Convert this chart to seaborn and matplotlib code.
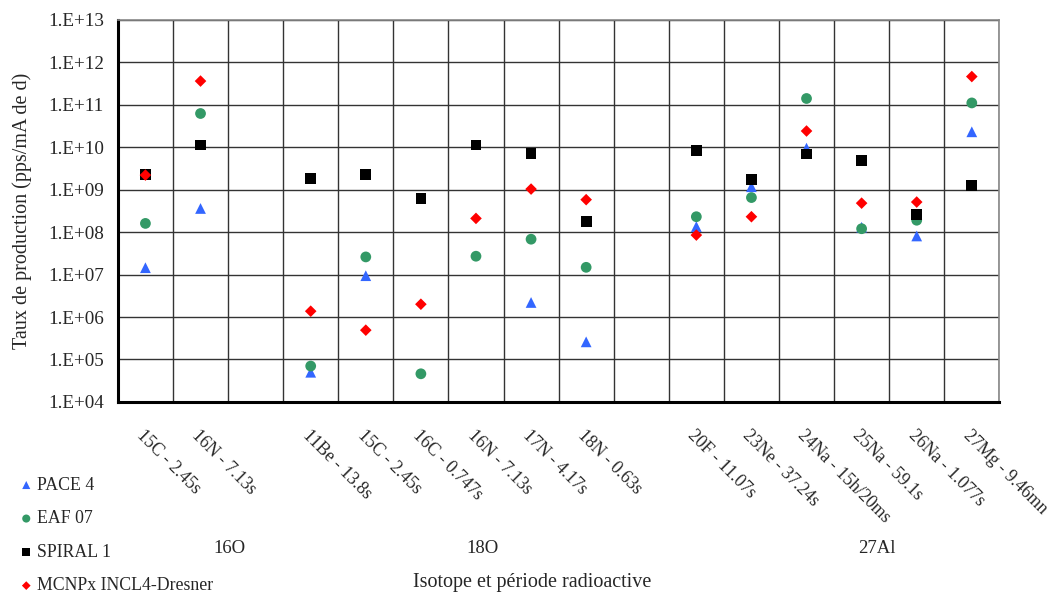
import numpy as np
import pandas as pd
import matplotlib
matplotlib.use("Agg")
import matplotlib.pyplot as plt
import seaborn as sns
from matplotlib.ticker import FixedLocator, FuncFormatter, NullFormatter

nan = np.nan

# ---- data ----
labels = ["15C - 2.45s", "16N - 7.13s", "", "11Be - 13.8s", "15C - 2.45s",
          "16C - 0.747s", "16N - 7.13s", "17N - 4.17s", "18N - 0.63s", "",
          "20F - 11.07s", "23Ne - 37.24s", "24Na - 15h/20ms", "25Na - 59.1s",
          "26Na - 1.077s", "27Mg - 9.46mn"]
groups = ["16O", "18O", "27Al"]
series_names = ["PACE 4", "EAF 07", "SPIRAL 1", "MCNPx INCL4-Dresner"]

pace4 = [1.45e7, 3.6e8, nan, 5.0e4, 9.4e6, nan, nan, 2.2e6, 2.6e5, nan,
         1.35e8, 1.17e9, 9.5e9, 1.3e8, 8.1e7, 2.3e10]
eaf07 = [1.6e8, 6.2e10, nan, 7.0e4, 2.6e7, 4.6e4, 2.7e7, 6.8e7, 1.48e7, nan,
         2.3e8, 6.5e8, 1.4e11, 1.2e8, 1.9e8, 1.1e11]
spiral1 = [2.3e9, 1.12e10, nan, 1.83e9, 2.3e9, 6.2e8, 1.12e10, 7.2e9, 1.74e8, nan,
           8.5e9, 1.7e9, 6.9e9, 4.9e9, 2.6e8, 1.26e9]
mcnpx = [2.2e9, 3.6e11, nan, 1.37e6, 4.9e5, 2.0e6, 2.1e8, 1.03e9, 5.8e8, nan,
         8.5e7, 2.3e8, 2.4e10, 4.8e8, 5.1e8, 4.6e11]

colors = ["#3366FF", "#339966", "#000000", "#FF0000"]
markers = ["^", "o", "s", "D"]
sizes = [60, 60, 60, 35]

rows = []
for name, vals in zip(series_names, [pace4, eaf07, spiral1, mcnpx]):
    for i, v in enumerate(vals):
        if not np.isnan(v):
            rows.append({"pos": i, "value": v, "serie": name})
df = pd.DataFrame(rows)

sns.set_style("white")
plt.rcParams["font.family"] = ["Liberation Serif", "DejaVu Serif"]

fig = plt.figure(figsize=(10.62, 5.99), dpi=100)
ax = fig.add_axes([0.111, 0.329, 0.830, 0.638])

for name, c, m, s in zip(series_names, colors, markers, sizes):
    sub = df[df["serie"] == name]
    sns.scatterplot(data=sub, x="pos", y="value", color=c, marker=m, s=s,
                    edgecolor="none", linewidth=0, ax=ax, label=name, zorder=3)

ax.set_yscale("log")
ax.set_ylim(1e4, 1e13)
n = len(labels)
ax.set_xlim(-0.5, n - 0.5)

ax.yaxis.set_major_locator(FixedLocator([10.0 ** k for k in range(4, 14)]))
ax.yaxis.set_minor_locator(FixedLocator([]))
ax.yaxis.set_major_formatter(FuncFormatter(lambda v, p: "1.E+%02d" % int(round(np.log10(v)))))

ax.xaxis.set_major_locator(FixedLocator(np.arange(-0.5, n, 1.0)))
ax.xaxis.set_major_formatter(NullFormatter())
ax.set_xticks(np.arange(0, n), minor=True)
ax.set_xticklabels(labels, minor=True, rotation=-45, ha="left", va="top",
                   rotation_mode="anchor", fontsize=12.8)
ax.tick_params(axis="x", which="minor", length=0, pad=18)
ax.tick_params(axis="x", which="major", length=5, width=1.2, color="black", direction="out")
ax.tick_params(axis="y", which="major", length=6, width=1.2, color="black",
               direction="out", labelsize=13.8, pad=4)

ax.grid(True, which="major", axis="both", color="#333333", linewidth=1.0)
ax.set_axisbelow(True)

for side in ["left", "bottom"]:
    ax.spines[side].set_color("black")
    ax.spines[side].set_linewidth(2.2)
for side in ["top", "right"]:
    ax.spines[side].set_color("#888888")
    ax.spines[side].set_linewidth(1.2)

ax.set_xlabel("")
ax.set_ylabel("Taux de production (pps/mA de d)", fontsize=14.5)
ax.yaxis.set_label_coords(-0.097, 0.5)

# group labels
for g, xp in zip(groups, [1.53, 6.11, 13.28]):
    ax.text(xp, -0.383, g, transform=ax.get_xaxis_transform(), ha="center",
            va="center", fontsize=13.5)
fig.text(0.501, 0.028, "Isotope et période radioactive", ha="center",
         va="center", fontsize=14.5)

handles, lbls = ax.get_legend_handles_labels()
fig.legend(handles, lbls, loc="lower left", bbox_to_anchor=(0.013, -0.004),
           frameon=False, fontsize=12.8, labelspacing=0.93, handlelength=0.6,
           handletextpad=0.3, markerscale=0.75, borderaxespad=0)
if ax.legend_ is not None:
    ax.legend_.remove()

fig.savefig("out.png", dpi=100)
